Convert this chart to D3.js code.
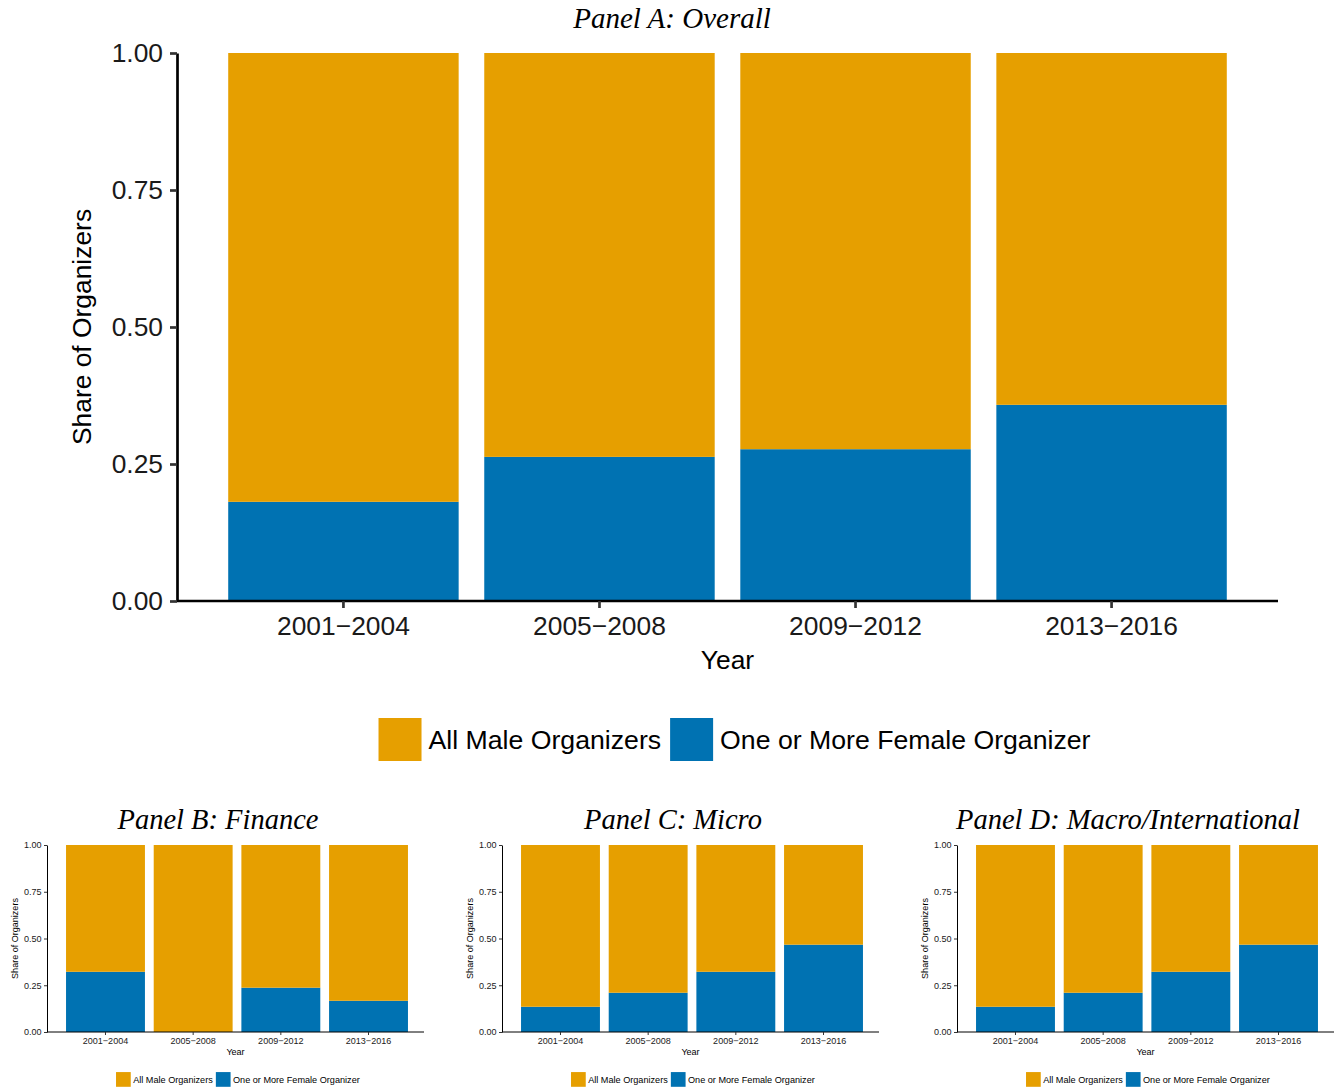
<!DOCTYPE html>
<html>
<head>
<meta charset="utf-8">
<script src="https://cdn.jsdelivr.net/npm/d3@7"></script>
<style>
  html, body { margin: 0; padding: 0; background: #fff; }
  svg { display: block; }
</style>
</head>
<body>
<script>
// ---- Data ----
const categories = ["2001\u22122004", "2005\u22122008", "2009\u22122012", "2013\u22122016"];
const seriesNames = ["All Male Organizers", "One or More Female Organizer"];
const overallFemale = [0.181, 0.263, 0.277, 0.358];
const financeFemale = [0.322, 0.0, 0.237, 0.167];
const microFemale = [0.135, 0.210, 0.322, 0.467];
const macroFemale = [0.135, 0.210, 0.322, 0.467];
const yTicks = [0, 0.25, 0.5, 0.75, 1];
const yTickLabels = ["0.00", "0.25", "0.50", "0.75", "1.00"];
const panelTitles = ["Panel A: Overall", "Panel B: Finance", "Panel C: Micro", "Panel D: Macro/International"];
const xTitle = "Year";
const yTitle = "Share of Organizers";

// ---- Styles ----
const colors = { male: "#E69F00", female: "#0072B2" };
const sansFont = "'Liberation Sans', Arial, sans-serif";
const serifFont = "'Liberation Serif', 'DejaVu Serif', serif";

const W = 1341, H = 1090;
const svg = d3.select("body").append("svg").attr("width", W).attr("height", H);

function drawPanel(cfg) {
  const s = cfg.s;
  const g = svg.append("g");
  const rows = categories.map((c, i) => ({ cat: c, female: cfg.female[i], male: 1 - cfg.female[i] }));
  const stack = d3.stack().keys(["female", "male"]);
  const layers = stack(rows);

  const x = d3.scaleBand().domain(categories).range([cfg.bx0, cfg.bx1])
    .paddingInner(0.1).paddingOuter(0.2);
  const y = d3.scaleLinear().domain([0, 1]).range([cfg.yBot, cfg.yTop]);

  // bars
  g.selectAll("g.layer").data(layers).join("g")
    .attr("fill", d => colors[d.key])
    .selectAll("rect").data(d => d).join("rect")
    .attr("x", d => x(d.data.cat))
    .attr("width", x.bandwidth())
    .attr("y", d => y(d[1]))
    .attr("height", d => Math.max(0, y(d[0]) - y(d[1])));

  const fs = 26.4 * s;
  const tick = Math.max(3, 7 * s);
  const lw = Math.max(1, 2.7 * s);

  // y axis
  const ya = d3.axisLeft(y).tickValues(yTicks).tickFormat((d, i) => yTickLabels[i])
    .tickSize(tick).tickSizeOuter(0).tickPadding(Math.max(1.5, 7 * s));
  const yg = g.append("g").attr("transform", `translate(${cfg.x0},0)`).call(ya);
  yg.select(".domain").attr("stroke", "#000").attr("stroke-width", lw);
  yg.selectAll(".tick line").attr("stroke", "#333").attr("stroke-width", lw);
  yg.selectAll(".tick text").attr("font-family", sansFont).attr("font-size", fs).attr("fill", "#1a1a1a");

  // x axis
  const xa = d3.axisBottom(x).tickSize(tick).tickSizeOuter(0).tickPadding(Math.max(1.5, 8 * s));
  const xg = g.append("g").attr("transform", `translate(0,${cfg.yBot})`).call(xa);
  xg.select(".domain").attr("d", `M${cfg.x0},0H${cfg.x1}`)
    .attr("stroke", "#000").attr("stroke-width", lw);
  xg.selectAll(".tick line").attr("stroke", "#333").attr("stroke-width", lw);
  xg.selectAll(".tick text").attr("font-family", sansFont).attr("font-size", fs).attr("fill", "#1a1a1a");

  // axis titles
  const cx = (cfg.x0 + cfg.x1) / 2;
  g.append("text").attr("x", cx).attr("y", cfg.yBot + 68 * s)
    .attr("text-anchor", "middle").attr("font-family", sansFont).attr("font-size", fs)
    .attr("fill", "#000").text(xTitle);
  g.append("text")
    .attr("transform", `translate(${cfg.x0 - 86 * s},${(cfg.yTop + cfg.yBot) / 2}) rotate(-90)`)
    .attr("text-anchor", "middle").attr("font-family", sansFont).attr("font-size", fs)
    .attr("fill", "#000").text(yTitle);

  // title
  g.append("text").attr("x", cfg.titleX).attr("y", cfg.titleY)
    .attr("text-anchor", "middle").attr("font-family", serifFont).attr("font-style", "italic")
    .attr("font-size", cfg.titleSize).attr("fill", "#000").text(cfg.title);

  // legend
  const sw = 43 * s;
  const lg = g.append("g");
  const keys = ["male", "female"];
  let cursor = 0;
  keys.forEach((k, i) => {
    lg.append("rect").attr("x", cursor).attr("y", 0).attr("width", sw).attr("height", sw).attr("fill", colors[k]);
    const t = lg.append("text").attr("x", cursor + sw + 7 * s).attr("y", sw / 2)
      .attr("dy", "0.36em").attr("font-family", sansFont).attr("font-size", fs * 1.01)
      .attr("fill", "#000").text(seriesNames[i]);
    cursor += sw + 7 * s + t.node().getComputedTextLength() + 9 * s;
  });
  const lwidth = cursor - 9 * s;
  lg.attr("transform", `translate(${cx + 7 * s - lwidth / 2},${cfg.yBot + 117 * s})`);
}

// Panel A (large)
drawPanel({ s: 1, x0: 177, x1: 1278, bx0: 177, bx1: 1278, yTop: 53, yBot: 601,
  title: panelTitles[0], titleX: 672, titleY: 28, titleSize: 29, female: overallFemale });

// Small panels
const smallData = [financeFemale, microFemale, macroFemale];
smallData.forEach((f, i) => {
  const off = 455 * i;
  drawPanel({ s: 0.3425, x0: off + 47, x1: off + 424, bx0: off + 48.5, bx1: off + 425.5,
    yTop: 845, yBot: 1032, title: panelTitles[i + 1], titleX: off + 218, titleY: 829,
    titleSize: 28.5, female: f });
});
</script>
</body>
</html>
